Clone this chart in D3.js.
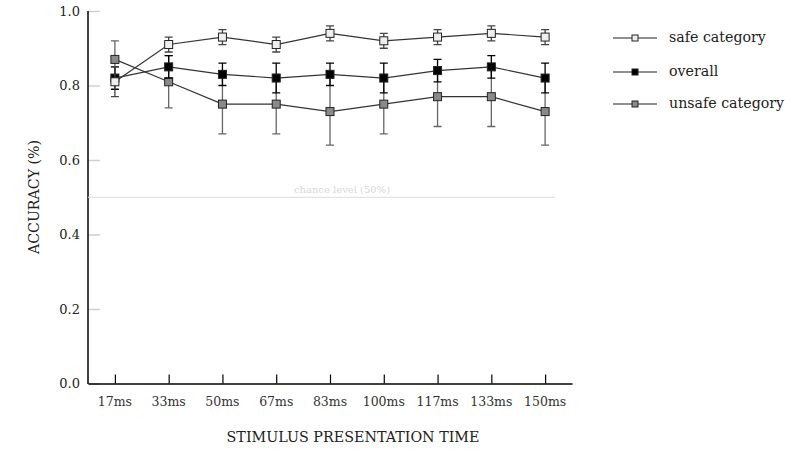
<!DOCTYPE html>
<html>
<head>
<meta charset="utf-8">
<script src="https://cdn.jsdelivr.net/npm/d3@7"></script>
<style>
  body { margin: 0; background: #fff; }
  svg { font-family: "DejaVu Serif", serif; }
</style>
</head>
<body>
<svg id="chart" width="804" height="451"></svg>
<script>
const times = ['17ms', '33ms', '50ms', '67ms', '83ms', '100ms', '117ms', '133ms', '150ms']
const yTicks = [0, 0.2, 0.4, 0.6, 0.8, 1.0]

const safeMean = [0.81, 0.91, 0.93, 0.91, 0.94, 0.92, 0.93, 0.94, 0.93]
const safeErr = [0.04, 0.02, 0.02, 0.02, 0.02, 0.02, 0.02, 0.02, 0.02]
const overallMean = [0.82, 0.85, 0.83, 0.82, 0.83, 0.82, 0.84, 0.85, 0.82]
const overallErr = [0.03, 0.03, 0.03, 0.04, 0.03, 0.04, 0.03, 0.03, 0.04]
const unsafeMean = [0.87, 0.81, 0.75, 0.75, 0.73, 0.75, 0.77, 0.77, 0.73]
const unsafeErr = [0.05, 0.07, 0.08, 0.08, 0.09, 0.08, 0.08, 0.08, 0.09]
const chance = 0.5

const series = [
  { name: 'unsafe category', mean: unsafeMean, err: unsafeErr, fill: '#8a8a8a', bar: '#666' },
  { name: 'overall', mean: overallMean, err: overallErr, fill: '#000', bar: '#000' },
  { name: 'safe category', mean: safeMean, err: safeErr, fill: '#eeeeee', bar: '#444' }
]
const legendOrder = ['safe category', 'overall', 'unsafe category']

const svg = d3.select('#chart')

const x = d3.scalePoint()
  .domain(times)
  .range([88, 572])
  .padding(0.5)

const y = d3.scaleLinear()
  .domain([0, 1])
  .range([383.5, 11])

// y axis: grey ticks pointing inward
const yAxis = svg.append('g')
  .attr('transform', 'translate(88,0)')
  .call(d3.axisRight(y).tickValues(yTicks).tickSize(12).tickFormat(''))
yAxis.select('.domain').remove()
yAxis.selectAll('line').attr('stroke', '#d0d0d0').attr('stroke-width', 1.5)

svg.append('g')
  .selectAll('text')
  .data(yTicks)
  .enter()
  .append('text')
  .attr('x', 80)
  .attr('y', d => y(d))
  .attr('dy', '0.35em')
  .attr('text-anchor', 'end')
  .style('font-size', '13px')
  .style('fill', '#222')
  .text(d => d.toFixed(1))

svg.append('line')
  .attr('x1', 88).attr('x2', 88)
  .attr('y1', y(1)).attr('y2', y(0) + 0.5)
  .style('stroke', '#000').style('stroke-width', 1.5)

// x axis
const xAxis = svg.append('g')
  .attr('transform', `translate(0,${y(0)})`)
  .call(d3.axisTop(x).tickSize(9).tickSizeOuter(0).tickFormat(''))
xAxis.select('.domain').attr('stroke', '#000').attr('stroke-width', 1.5)
xAxis.selectAll('line').attr('stroke', '#000').attr('stroke-width', 1.2)

svg.append('g')
  .selectAll('text')
  .data(times)
  .enter()
  .append('text')
  .attr('x', d => x(d))
  .attr('y', 406)
  .attr('text-anchor', 'middle')
  .style('font-size', '12.5px')
  .style('fill', '#333')
  .text(d => d)

// axis titles
svg.append('text')
  .attr('x', 353)
  .attr('y', 442)
  .attr('text-anchor', 'middle')
  .style('font-size', '14.3px')
  .style('fill', '#222')
  .text('STIMULUS PRESENTATION TIME')

svg.append('text')
  .attr('transform', 'translate(39,197) rotate(-90)')
  .attr('text-anchor', 'middle')
  .style('font-size', '14.2px')
  .style('fill', '#222')
  .text('ACCURACY (%)')

// chance level
svg.append('line')
  .attr('x1', 88).attr('x2', 555)
  .attr('y1', y(chance)).attr('y2', y(chance))
  .style('stroke', '#ddd').style('stroke-width', 1)
svg.append('text')
  .attr('x', 342)
  .attr('y', y(chance) - 4)
  .attr('text-anchor', 'middle')
  .style('font-size', '10px')
  .style('fill', '#d8d8d8')
  .text('chance level (50%)')

const line = d3.line()
  .x((d, i) => x(times[i]))
  .y(d => y(d))

series.forEach(s => {
  const g = svg.append('g')
  const pts = s.mean.map((m, i) => ({ t: times[i], m, e: s.err[i] }))

  g.append('path')
    .datum(s.mean)
    .attr('d', line)
    .style('fill', 'none')
    .style('stroke', '#333')
    .style('stroke-width', 1.2)

  // error bars
  g.selectAll('.bar')
    .data(pts)
    .enter()
    .append('path')
    .attr('d', d => {
      const cx = x(d.t), y1 = y(d.m + d.e), y2 = y(d.m - d.e)
      return `M${cx},${y1}V${y2}M${cx - 4},${y1}H${cx + 4}M${cx - 4},${y2}H${cx + 4}`
    })
    .style('fill', 'none')
    .style('stroke', s.bar)
    .style('stroke-width', 1.3)

  g.selectAll('rect')
    .data(pts)
    .enter()
    .append('rect')
    .attr('x', d => x(d.t) - 4)
    .attr('y', d => y(d.m) - 4)
    .attr('width', 8)
    .attr('height', 8)
    .style('fill', s.fill)
    .style('stroke', '#222')
    .style('stroke-width', 1)
})

// legend
const legend = svg.append('g')
  .selectAll('g')
  .data(legendOrder.map(n => series.find(s => s.name === n)))
  .enter()
  .append('g')
  .attr('transform', (d, i) => `translate(613,${[38, 72, 104][i]})`)

legend.append('line')
  .attr('x1', 0).attr('x2', 44)
  .style('stroke', '#222').style('stroke-width', 1.2)
legend.append('rect')
  .attr('x', 19).attr('y', -3)
  .attr('width', 6).attr('height', 6)
  .style('fill', d => d.fill)
  .style('stroke', '#222')
  .style('stroke-width', 1)
legend.append('text')
  .attr('x', 56)
  .attr('dy', '0.3em')
  .style('font-size', '14.2px')
  .style('fill', '#222')
  .text(d => d.name)
</script>
</body>
</html>
